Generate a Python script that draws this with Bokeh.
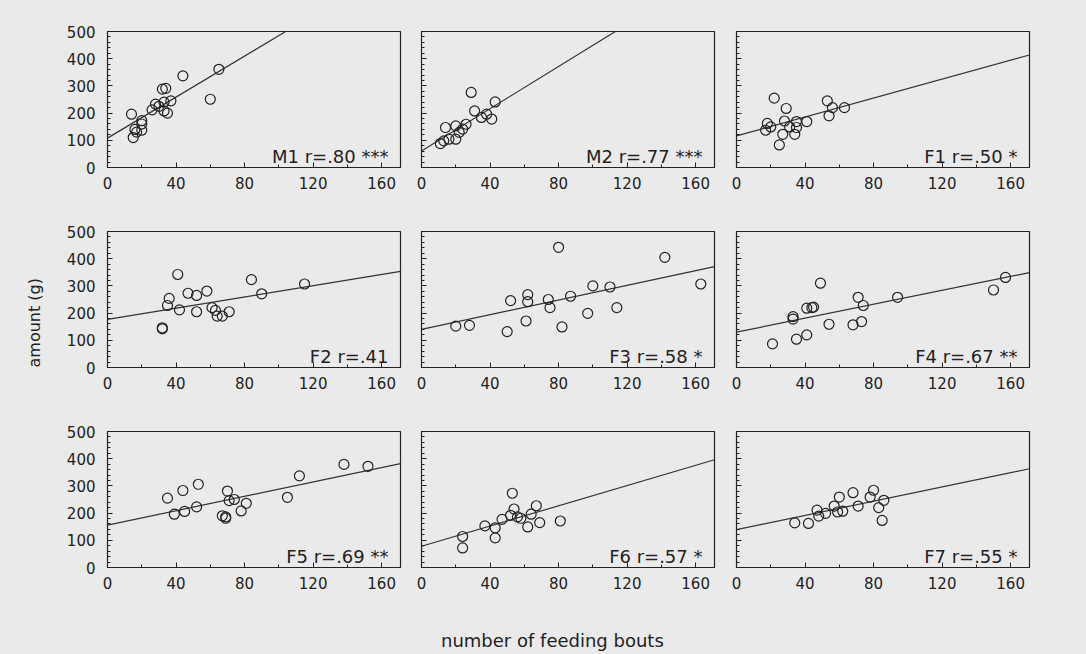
import numpy as np
from bokeh.plotting import figure
from bokeh.models import Range1d, SingleIntervalTicker, Label, Title, Div
from bokeh.layouts import column, row
from bokeh.embed import file_html
from bokeh.resources import INLINE

# ---------------- data ----------------
panel_names = ["M1", "M2", "F1", "F2", "F3", "F4", "F5", "F6", "F7"]
panel_r = [".80", ".77", ".50", ".41", ".58", ".67", ".69", ".57", ".55"]
panel_stars = ["***", "***", "*", "", "*", "**", "**", "*", "*"]

# regression lines: intercept and slope
line_intercepts = [108, 61, 116, 177, 140, 130, 156, 78, 139]
line_slopes = [3.77, 3.88, 1.74, 1.03, 1.35, 1.28, 1.32, 1.86, 1.31]

m1_x = [14, 15, 16, 17, 20, 20, 20, 26, 28, 30, 32, 34, 33, 33, 35, 37, 44, 60, 65]
m1_y = [196, 110, 140, 130, 137, 172, 160, 212, 233, 225, 288, 291, 240, 208, 200, 245, 337, 251, 361]

m2_x = [11, 13, 16, 20, 14, 20, 22, 24, 26, 29, 31, 35, 38, 41, 43]
m2_y = [88, 98, 104, 104, 147, 153, 129, 141, 159, 276, 208, 184, 196, 178, 241]

f1_x = [17, 18, 20, 22, 25, 27, 28, 29, 31, 34, 35, 35, 41, 53, 54, 56, 63]
f1_y = [137, 162, 149, 255, 83, 122, 171, 217, 149, 122, 169, 147, 169, 245, 190, 220, 220]

f2_x = [32, 32, 35, 36, 41, 42, 47, 52, 52, 58, 61, 63, 64, 67, 71, 84, 90, 115]
f2_y = [146, 142, 228, 254, 342, 212, 273, 265, 205, 281, 220, 210, 189, 189, 205, 323, 271, 307]

f3_x = [20, 28, 50, 52, 61, 62, 62, 74, 75, 80, 82, 87, 97, 100, 110, 114, 142, 163]
f3_y = [152, 155, 132, 246, 171, 268, 242, 250, 220, 442, 149, 262, 199, 300, 296, 220, 405, 307]

f4_x = [21, 33, 33, 35, 41, 41, 44, 45, 49, 54, 68, 71, 73, 74, 94, 150, 157]
f4_y = [87, 187, 178, 104, 120, 218, 220, 222, 310, 159, 157, 258, 169, 228, 258, 285, 331]

f5_x = [35, 39, 44, 45, 52, 53, 67, 69, 69, 70, 71, 74, 78, 81, 105, 112, 138, 152]
f5_y = [255, 196, 283, 206, 223, 306, 190, 181, 186, 281, 246, 250, 208, 236, 258, 337, 379, 372]

f6_x = [24, 24, 37, 43, 43, 47, 52, 53, 54, 56, 58, 62, 64, 67, 69, 81]
f6_y = [114, 72, 153, 146, 109, 177, 192, 273, 215, 186, 181, 149, 196, 227, 165, 171]

f7_x = [34, 42, 47, 48, 52, 57, 59, 60, 62, 68, 71, 78, 80, 83, 85, 86]
f7_y = [164, 162, 211, 189, 199, 226, 204, 259, 207, 275, 226, 259, 284, 220, 173, 247]

x_label = "number of feeding bouts"
y_label = "amount (g)"

# ---------------- styling ----------------
BG = "#eaeaea"
INK = "#222222"
FONT = "DejaVu Sans"
X_MAX = 171
Y_MAX = 500

panel_x = [m1_x, m2_x, f1_x, f2_x, f3_x, f4_x, f5_x, f6_x, f7_x]
panel_y = [m1_y, m2_y, f1_y, f2_y, f3_y, f4_y, f5_y, f6_y, f7_y]


def make_panel(i):
    col = i % 3
    rw = i // 3
    left = 107 if col == 0 else 11
    right = 10 if col == 0 else (11 if col == 1 else 20)
    top = 31 if rw == 0 else 23
    bottom = 41 if rw < 2 else 36
    p = figure(width=left + 293 + right, height=top + 136 + bottom,
               x_range=Range1d(0, X_MAX), y_range=Range1d(0, Y_MAX),
               output_backend="svg", toolbar_location=None,
               min_border_left=left, min_border_right=right,
               min_border_top=top, min_border_bottom=bottom)
    p.background_fill_color = BG
    p.border_fill_color = BG
    p.outline_line_color = INK
    p.outline_line_width = 1.2
    p.outline_line_alpha = 1
    p.xgrid.visible = False
    p.ygrid.visible = False

    p.xaxis.ticker = SingleIntervalTicker(interval=40, num_minor_ticks=2)
    p.yaxis.ticker = SingleIntervalTicker(interval=100, num_minor_ticks=5)
    for ax in (p.xaxis[0], p.yaxis[0]):
        ax.axis_line_color = None
        ax.major_tick_in = 5
        ax.major_tick_out = 0
        ax.minor_tick_in = 3
        ax.minor_tick_out = 0
        ax.major_tick_line_color = INK
        ax.minor_tick_line_color = INK
        ax.major_label_text_font = FONT
        ax.major_label_text_font_size = "15px"
        ax.major_label_text_color = INK
    p.xaxis.major_label_standoff = 9
    p.yaxis.major_label_standoff = 12
    if col != 0:
        p.yaxis.major_label_overrides = {v: "" for v in range(0, Y_MAX + 1, 100)}

    xs = np.array([0, X_MAX], dtype=float)
    ys = line_intercepts[i] + line_slopes[i] * xs
    p.line(xs, ys, line_color="#333333", line_width=1.2)
    p.scatter(panel_x[i], panel_y[i], marker="circle", size=10,
              fill_color=None, line_color=INK, line_width=1.2)

    txt = f"{panel_names[i]} r={panel_r[i]}"
    if panel_stars[i]:
        txt += " " + panel_stars[i]
    p.add_layout(Label(x=X_MAX, y=0, x_offset=-12, y_offset=11, text=txt,
                       text_align="right", text_baseline="alphabetic",
                       text_font=FONT, text_font_size="18px", text_color=INK))
    return p


panels = [make_panel(i) for i in range(9)]

# shared y-axis title, on the middle-left panel
panels[3].add_layout(Title(text=y_label, align="left", offset=0, standoff=40,
                           text_font=FONT, text_font_size="16px",
                           text_font_style="normal", text_color=INK), "left")

# shared x-axis title below the grid
xdiv = Div(text=(f'<div style="margin:0;padding:0;margin-top:22px;margin-left:436px;'
                 f'font-family:\'DejaVu Sans\';font-size:18px;color:{INK};'
                 f'white-space:nowrap;line-height:21px;">{x_label}</div>'),
           width=1049, height=48)

layout = column(row(panels[0], panels[1], panels[2]),
                row(panels[3], panels[4], panels[5]),
                row(panels[6], panels[7], panels[8]),
                xdiv)

html = file_html(layout, INLINE, title="feeding bouts")
html = html.replace("<head>", "<head><style>html, body {background-color: #eaeaea;}</style>", 1)
open("out.html", "w").write(html)
